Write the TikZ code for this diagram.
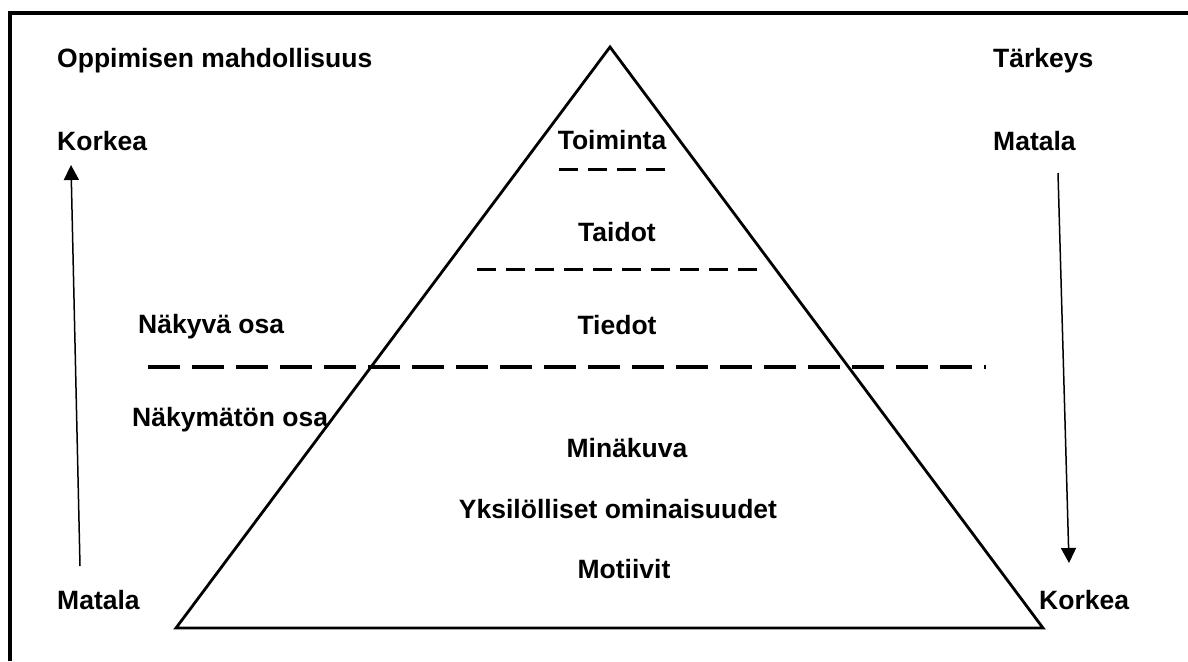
\documentclass[tikz,border=0pt]{standalone}
\usepackage{fontspec}
\setmainfont{Liberation Sans}
\usetikzlibrary{arrows.meta}

\begin{document}
\begin{tikzpicture}[x=1pt, y=-1pt,
  lbl/.style={font=\fontsize{26.5}{30}\selectfont\bfseries, inner sep=0pt},
  layer/.style={lbl, anchor=base},
  side/.style={lbl, anchor=base west},
  smalldash/.style={line width=3pt, dash pattern=on 19pt off 10pt},
  bigdash/.style={line width=4.5pt, dash pattern=on 32pt off 12pt},
  axis/.style={line width=1.5pt, -{Triangle[length=15pt, width=15pt]}}]
  \useasboundingbox (0,0) rectangle (1188,661);
  % frame
  \draw[line width=3.5pt] (10,661) -- (10,13) -- (1188,13);

  % pyramid
  \coordinate (top) at (610,47);
  \coordinate (baseL) at (176,628);
  \coordinate (baseR) at (1043,628);
  \draw[line width=2.8pt, line join=miter] (top) -- (baseL) -- (baseR) -- cycle;

  % dividing lines
  \coordinate (d1a) at (559,169);  \coordinate (d1b) at (667,169);
  \coordinate (d2a) at (477,269);  \coordinate (d2b) at (757,269);
  \coordinate (d3a) at (148,367);  \coordinate (d3b) at (986,367);
  \draw[smalldash] (d1a) -- (d1b);
  \draw[smalldash] (d2a) -- (d2b);
  \draw[bigdash] (d3a) -- (d3b);

  % layers
  \node[layer] (toiminta) at (612,149) {Toiminta};
  \node[layer] (taidot) at (617,241) {Taidot};
  \node[layer] (tiedot) at (617,334) {Tiedot};
  \node[layer] (minakuva) at (627,457) {Minäkuva};
  \node[layer] (yksil) at (618,518) {Yksilölliset ominaisuudet};
  \node[layer] (motiivit) at (624,578) {Motiivit};

  % left side
  \node[side] (oppiminen) at (57,67) {Oppimisen mahdollisuus};
  \node[side] (korkeaL) at (57,150) {Korkea};
  \node[side] (matalaL) at (57,609) {Matala};
  \node[side] (nakyva) at (138,333) {Näkyvä osa};
  \node[side] (nakymaton) at (132,426) {Näkymätön osa};

  % right side
  \node[side] (tarkeys) at (993,67) {Tärkeys};
  \node[side] (matalaR) at (993,150) {Matala};
  \node[side] (korkeaR) at (1039,609) {Korkea};

  % arrows
  \coordinate (upS) at (80,566);  \coordinate (upE) at (71,165);
  \coordinate (dnS) at (1058,173); \coordinate (dnE) at (1069,563);
  \draw[axis] (upS) -- (upE);
  \draw[axis] (dnS) -- (dnE);
\end{tikzpicture}
\end{document}
